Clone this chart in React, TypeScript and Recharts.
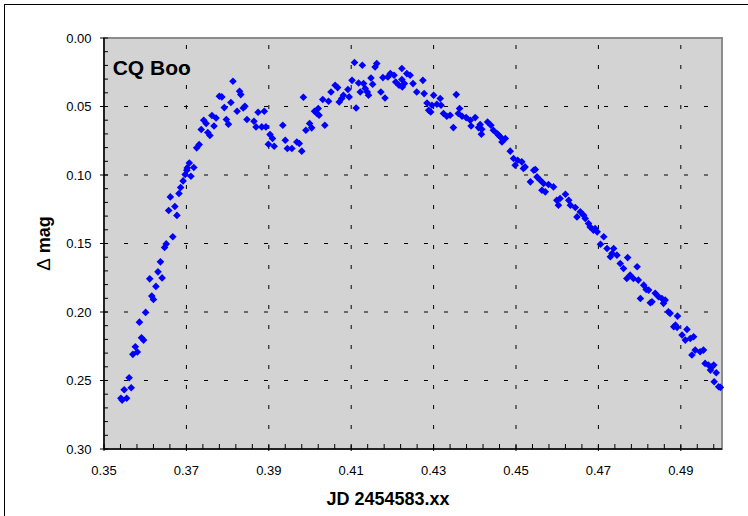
import React from 'react';
import { ScatterChart, Scatter, XAxis, YAxis, ReferenceArea, ReferenceLine } from 'recharts';

const FONT = '"Liberation Sans", Arial, Helvetica, sans-serif';

// Julian date fraction (JD 2454583.xx) of each observation
const jd = [
  0.3541, 0.3544, 0.3555, 0.3549, 0.3566, 0.3561, 0.3570, 0.3576, 0.3581, 0.3586,
  0.3591, 0.3596, 0.3601, 0.3611, 0.3616, 0.3620, 0.3626, 0.3631, 0.3637, 0.3641,
  0.3647, 0.3651, 0.3657, 0.3661, 0.3667, 0.3672, 0.3677, 0.3682, 0.3686, 0.3692,
  0.3697, 0.3701, 0.3702, 0.3707, 0.3711, 0.3718, 0.3725, 0.3731, 0.3736, 0.3742,
  0.3748, 0.3752, 0.3757, 0.3762, 0.3767, 0.3772, 0.3780, 0.3786, 0.3792, 0.3797,
  0.3802, 0.3808, 0.3813, 0.3823, 0.3829, 0.3832, 0.3838, 0.3842, 0.3847, 0.3864,
  0.3869, 0.3874, 0.3883, 0.3889, 0.3893, 0.3899, 0.3903, 0.3909, 0.3913, 0.3934,
  0.3940, 0.3945, 0.3956, 0.3968, 0.3974, 0.3980, 0.3984, 0.3990, 0.3999, 0.4004,
  0.4011, 0.4017, 0.4020, 0.4022, 0.4031, 0.4036, 0.4045, 0.4051, 0.4061, 0.4067,
  0.4071, 0.4077, 0.4081, 0.4092, 0.4095, 0.4102, 0.4108, 0.4112, 0.4118, 0.4122,
  0.4127, 0.4130, 0.4134, 0.4139, 0.4142, 0.4148, 0.4152, 0.4158, 0.4162, 0.4172,
  0.4177, 0.4182, 0.4189, 0.4195, 0.4204, 0.4208, 0.4216, 0.4223, 0.4223, 0.4224,
  0.4229, 0.4235, 0.4243, 0.4250, 0.4259, 0.4274, 0.4277, 0.4284, 0.4288, 0.4293,
  0.4296, 0.4300, 0.4308, 0.4316, 0.4318, 0.4324, 0.4332, 0.4340, 0.4348, 0.4355,
  0.4360, 0.4363, 0.4369, 0.4379, 0.4389, 0.4391, 0.4401, 0.4409, 0.4413, 0.4416,
  0.4417, 0.4431, 0.4439, 0.4445, 0.4454, 0.4458, 0.4462, 0.4466, 0.4474, 0.4486,
  0.4494, 0.4498, 0.4504, 0.4514, 0.4518, 0.4522, 0.4535, 0.4543, 0.4547, 0.4551,
  0.4559, 0.4563, 0.4567, 0.4571, 0.4579, 0.4591, 0.4599, 0.4603, 0.4607, 0.4620,
  0.4628, 0.4632, 0.4644, 0.4648, 0.4656, 0.4664, 0.4668, 0.4676, 0.4680, 0.4688,
  0.4692, 0.4697, 0.4705, 0.4713, 0.4721, 0.4729, 0.4733, 0.4737, 0.4745, 0.4753,
  0.4761, 0.4769, 0.4771, 0.4777, 0.4785, 0.4794, 0.4797, 0.4802, 0.4810, 0.4816,
  0.4822, 0.4826, 0.4830, 0.4838, 0.4846, 0.4854, 0.4858, 0.4862, 0.4870, 0.4874,
  0.4883, 0.4887, 0.4891, 0.4892, 0.4903, 0.4911, 0.4915, 0.4923, 0.4927, 0.4931,
  0.4935, 0.4947, 0.4955, 0.4959, 0.4967, 0.4972, 0.4976, 0.4980, 0.4981, 0.4986,
  0.4992, 0.4996,
];

// Differential magnitude for each observation
const dmag = [
  0.2630, 0.2643, 0.2630, 0.2567, 0.2553, 0.2480, 0.2309, 0.2254, 0.2292, 0.2074,
  0.2188, 0.2205, 0.2003, 0.1758, 0.1884, 0.1908, 0.1813, 0.1707, 0.1634, 0.1751,
  0.1529, 0.1503, 0.1259, 0.1160, 0.1451, 0.1230, 0.1295, 0.1135, 0.1091, 0.1043,
  0.0996, 0.0965, 0.0948, 0.0912, 0.1009, 0.0945, 0.0802, 0.0778, 0.0668, 0.0600,
  0.0624, 0.0690, 0.0712, 0.0566, 0.0642, 0.0584, 0.0425, 0.0430, 0.0508, 0.0595,
  0.0629, 0.0471, 0.0316, 0.0535, 0.0389, 0.0413, 0.0511, 0.0498, 0.0595, 0.0608,
  0.0649, 0.0542, 0.0649, 0.0535, 0.0649, 0.0775, 0.0705, 0.0734, 0.0790, 0.0637,
  0.0746, 0.0807, 0.0807, 0.0759, 0.0770, 0.0826, 0.0433, 0.0673, 0.0624, 0.0656,
  0.0535, 0.0551, 0.0515, 0.0564, 0.0449, 0.0637, 0.0462, 0.0394, 0.0345, 0.0362,
  0.0467, 0.0442, 0.0418, 0.0376, 0.0430, 0.0309, 0.0179, 0.0511, 0.0328, 0.0394,
  0.0199, 0.0333, 0.0369, 0.0394, 0.0418, 0.0292, 0.0338, 0.0212, 0.0187, 0.0394,
  0.0289, 0.0438, 0.0284, 0.0260, 0.0272, 0.0321, 0.0345, 0.0303, 0.0223, 0.0357,
  0.0333, 0.0260, 0.0272, 0.0333, 0.0394, 0.0309, 0.0406, 0.0474, 0.0527, 0.0540,
  0.0491, 0.0418, 0.0484, 0.0442, 0.0491, 0.0551, 0.0571, 0.0564, 0.0654, 0.0413,
  0.0551, 0.0515, 0.0571, 0.0581, 0.0600, 0.0642, 0.0581, 0.0654, 0.0632, 0.0702,
  0.0666, 0.0613, 0.0637, 0.0673, 0.0697, 0.0710, 0.0722, 0.0759, 0.0734, 0.0826,
  0.0880, 0.0929, 0.0892, 0.0904, 0.0953, 0.0941, 0.1050, 0.0965, 0.0960, 0.1014,
  0.1038, 0.1111, 0.1062, 0.1123, 0.1069, 0.1087, 0.1184, 0.1220, 0.1171, 0.1140,
  0.1184, 0.1220, 0.1237, 0.1306, 0.1269, 0.1293, 0.1317, 0.1354, 0.1379, 0.1403,
  0.1390, 0.1415, 0.1505, 0.1451, 0.1536, 0.1597, 0.1573, 0.1536, 0.1585, 0.1646,
  0.1682, 0.1755, 0.1603, 0.1731, 0.1755, 0.1670, 0.1767, 0.1901, 0.1804, 0.1835,
  0.1840, 0.1933, 0.1926, 0.1864, 0.1889, 0.1901, 0.1937, 0.1913, 0.1999, 0.2010,
  0.2108, 0.2096, 0.2112, 0.2030, 0.2168, 0.2205, 0.2127, 0.2193, 0.2314, 0.2181,
  0.2278, 0.2290, 0.2278, 0.2375, 0.2387, 0.2424, 0.2400, 0.2387, 0.2509, 0.2443,
  0.2546, 0.2550,
];

// Axis ticks: labelled majors and unlabelled minors
const xMajor = [0.35, 0.37, 0.39, 0.41, 0.43, 0.45, 0.47, 0.49];
const xTicks = [
  0.35, 0.354, 0.358, 0.362, 0.366, 0.37, 0.374, 0.378, 0.382, 0.386,
  0.39, 0.394, 0.398, 0.402, 0.406, 0.41, 0.414, 0.418, 0.422, 0.426,
  0.43, 0.434, 0.438, 0.442, 0.446, 0.45, 0.454, 0.458, 0.462, 0.466,
  0.47, 0.474, 0.478, 0.482, 0.486, 0.49, 0.494, 0.498,
];
const yMajor = [0, 0.05, 0.1, 0.15, 0.2, 0.25, 0.3];
const yTicks = [
  0, 0.01, 0.02, 0.03, 0.04, 0.05, 0.06, 0.07, 0.08, 0.09, 0.1,
  0.11, 0.12, 0.13, 0.14, 0.15, 0.16, 0.17, 0.18, 0.19, 0.2,
  0.21, 0.22, 0.23, 0.24, 0.25, 0.26, 0.27, 0.28, 0.29, 0.3,
];
const xGrid = [0.37, 0.39, 0.41, 0.43, 0.45, 0.47, 0.49];
const yGrid = [0.05, 0.1, 0.15, 0.2, 0.25];

const points = jd.map((x, i) => ({ x, y: dmag[i] }));

const isMajor = (v: number, list: number[]) => list.some((m) => Math.abs(m - v) < 1e-6);

function XTick(props: any) {
  const { x, y, payload } = props;
  const v = payload.value as number;
  const major = isMajor(v, xMajor);
  return (
    <g>
      <line x1={x} x2={x} y1={y - 5} y2={y + (major ? 2 : 0)} stroke="#000" strokeWidth={1} />
      {major && (
        <text x={x} y={y + 25.5} textAnchor="middle" fontSize={13} fontFamily={FONT} fill="#000">
          {v.toFixed(2)}
        </text>
      )}
    </g>
  );
}

function YTick(props: any) {
  const { x, y, payload } = props;
  const v = payload.value as number;
  const major = isMajor(v, yMajor);
  return (
    <g>
      <line x1={x - (major ? 4 : 0)} x2={x + 4} y1={y} y2={y} stroke="#000" strokeWidth={1} />
      {major && (
        <text x={x - 12.5} y={y + 4.5} textAnchor="end" fontSize={13} fontFamily={FONT} fill="#000">
          {v.toFixed(2)}
        </text>
      )}
    </g>
  );
}

function Diamond(props: any) {
  const { cx, cy } = props;
  const r = 3.8;
  return (
    <polygon
      points={`${cx},${cy - r} ${cx + r},${cy} ${cx},${cy + r} ${cx - r},${cy}`}
      fill="#0000FF"
    />
  );
}

function StarName(props: any) {
  const { viewBox } = props;
  return (
    <text
      x={viewBox.x + 8.7}
      y={viewBox.y + 36.5}
      fontSize={21}
      fontWeight="bold"
      fontFamily={FONT}
      fill="#000"
    >
      CQ Boo
    </text>
  );
}

function XTitle(props: any) {
  const { viewBox } = props;
  return (
    <text
      x={viewBox.x + viewBox.width / 2 - 25}
      y={viewBox.y + 56}
      textAnchor="middle"
      fontSize={18}
      fontWeight="bold"
      fontFamily={FONT}
      fill="#000"
    >
      JD 2454583.xx
    </text>
  );
}

function YTitle(props: any) {
  const { viewBox } = props;
  const cx = 50;
  const cy = viewBox.y + viewBox.height / 2;
  return (
    <text
      x={cx}
      y={cy}
      transform={`rotate(-90, ${cx}, ${cy})`}
      textAnchor="middle"
      fontSize={18}
      fontWeight="bold"
      fontFamily={FONT}
      fill="#000"
    >
      <tspan fontWeight="normal" fontSize={19}>Δ</tspan> mag
    </text>
  );
}

export default function App() {
  return (
    <div
      style={{
        position: 'absolute',
        left: 0,
        top: 0,
        width: 748,
        height: 516,
        overflow: 'hidden',
        background: '#fff',
      }}
    >
      <div
        style={{
          position: 'absolute',
          left: 4,
          top: 4,
          width: 780,
          height: 560,
          border: '1px solid #000',
        }}
      />
      <div style={{ position: 'absolute', left: 0, top: 0 }}>
        <ScatterChart width={748} height={516} margin={{ top: 38, right: 26, bottom: 0, left: 0 }}>
          <XAxis
            dataKey="x"
            type="number"
            domain={[0.35, 0.5]}
            ticks={xTicks}
            interval={0}
            height={67}
            tickLine={false}
            tickSize={0}
            tickMargin={0}
            tick={<XTick />}
            axisLine={{ stroke: '#000', strokeWidth: 1.5 }}
            label={<XTitle />}
          />
          <YAxis
            dataKey="y"
            type="number"
            domain={[0, 0.3]}
            reversed
            ticks={yTicks}
            interval={0}
            width={104}
            tickLine={false}
            tickSize={0}
            tickMargin={0}
            tick={<YTick />}
            axisLine={{ stroke: '#000', strokeWidth: 1.5 }}
            label={<YTitle />}
          />
          <ReferenceArea
            x1={0.35}
            x2={0.5}
            y1={0}
            y2={0.3}
            fill="#D3D3D3"
            fillOpacity={1}
            stroke="#8C8C8C"
            strokeWidth={2}
            label={<StarName />}
          />
          {xGrid.map((v) => (
            <ReferenceLine key={`gx${v}`} x={v} stroke="#000" strokeDasharray="4 16" />
          ))}
          {yGrid.map((v) => (
            <ReferenceLine key={`gy${v}`} y={v} stroke="#000" strokeDasharray="4 16" />
          ))}
          <Scatter data={points} shape={<Diamond />} isAnimationActive={false} />
        </ScatterChart>
      </div>
    </div>
  );
}
